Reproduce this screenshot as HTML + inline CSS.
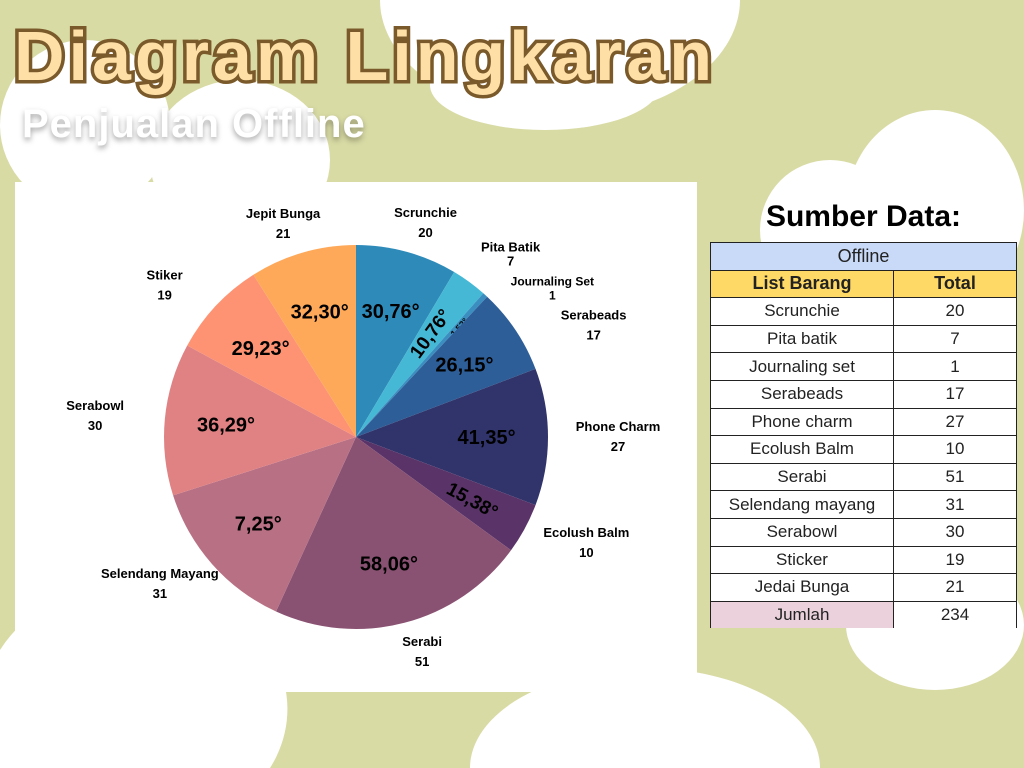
<!DOCTYPE html>
<html style="overflow:hidden;width:1024px;height:768px"><head><meta charset="utf-8"><style>
html,body{margin:0;padding:0}
#wrap{width:1024px;height:768px;overflow:hidden;background:#d9dba5;font-family:"Liberation Sans",sans-serif;position:relative}
#panel{position:absolute;left:15px;top:182px;width:682px;height:510px;background:#fff}
#title{position:absolute;left:14px;top:16px;font-size:70px;font-weight:bold;color:#fedfa6;-webkit-text-stroke:7px #7a5a2a;paint-order:stroke fill;letter-spacing:4px;white-space:nowrap}
#sub{position:absolute;left:22px;top:102px;font-size:40px;font-weight:bold;color:#fff;text-shadow:0 3px 6px rgba(0,0,0,.35);white-space:nowrap;letter-spacing:1px}
#src{position:absolute;left:710px;top:200px;width:307px;text-align:center;font-size:30px;font-weight:bold;color:#000}
table{position:absolute;left:710px;top:242px;width:307px;border-collapse:collapse;font-size:17px;text-align:center;background:#fff}
td{border:1.5px solid #222;height:26.6px;padding:0;color:#222}
</style></head><body>
<div id="wrap">
<svg width="1024" height="768" style="position:absolute;left:0;top:0" fill="#fff">
<path d="M380 0 A180 118 0 0 0 740 0 Z"/><ellipse cx="545" cy="85" rx="115" ry="45"/>
<ellipse cx="85" cy="125" rx="85" ry="85"/><ellipse cx="240" cy="160" rx="90" ry="80"/>
<ellipse cx="935" cy="210" rx="89" ry="100"/><ellipse cx="830" cy="230" rx="70" ry="70"/>
<ellipse cx="935" cy="625" rx="89" ry="65"/>
<path d="M0 768 L0 650 A150 125 0 0 1 270 768 Z"/><path d="M470 768 A175 100 0 0 1 820 768 Z"/>
</svg>
<div id="panel"></div>
<div id="title">Diagram Lingkaran</div>
<div id="sub">Penjualan Offline</div>
<svg id="pie" width="1024" height="768" style="position:absolute;left:0;top:0"></svg>
<div id="src">Sumber Data:</div>
<table>
<tr><td colspan="2" style="background:#c9daf8;font-size:18px">Offline</td></tr>
<tr style="background:#ffd966;font-weight:bold;font-size:18px"><td style="width:182px">List Barang</td><td>Total</td></tr>
<tr><td>Scrunchie</td><td>20</td></tr><tr><td>Pita batik</td><td>7</td></tr><tr><td>Journaling set</td><td>1</td></tr>
<tr><td>Serabeads</td><td>17</td></tr><tr><td>Phone charm</td><td>27</td></tr><tr><td>Ecolush Balm</td><td>10</td></tr>
<tr><td>Serabi</td><td>51</td></tr><tr><td>Selendang mayang</td><td>31</td></tr><tr><td>Serabowl</td><td>30</td></tr>
<tr><td>Sticker</td><td>19</td></tr><tr><td>Jedai Bunga</td><td>21</td></tr>
<tr><td style="background:#ead1dc;border-bottom:none">Jumlah</td><td style="border-bottom:none">234</td></tr>
</table>
</div>
<script>
const categories=["Scrunchie","Pita Batik","Journaling Set","Serabeads","Phone Charm","Ecolush Balm","Serabi","Selendang Mayang","Serabowl","Stiker","Jepit Bunga"];
const values=[20,7,1,17,27,10,51,31,30,19,21];
const degreeLabels=["30,76°","10,76°","1,53°","26,15°","41,35°","15,38°","58,06°","7,25°","36,29°","29,23°","32,30°"];
const colors=["#2e8bb9","#45b8d6","#3a8fc0","#2e5e98","#30346b","#5a3468","#8a5272","#b87084","#e08283","#fd9373","#fea95a"];
const svg=document.getElementById('pie');const NS="http://www.w3.org/2000/svg";
const cx=356,cy=437,r=192;const total=values.reduce((a,b)=>a+b,0);
function pt(a,rr){return [cx+Math.sin(a)*rr,cy-Math.cos(a)*rr];}
let acc=0;let prevY=-1000,prevRight=false;
values.forEach((v,i)=>{
 const a0=acc/total*2*Math.PI;acc+=v;const a1=acc/total*2*Math.PI;
 const p0=pt(a0,r),p1=pt(a1,r);const large=(a1-a0)>Math.PI?1:0;
 const path=document.createElementNS(NS,'path');
 path.setAttribute('d',`M${cx},${cy}L${p0[0]},${p0[1]}A${r},${r} 0 ${large} 1 ${p1[0]},${p1[1]}Z`);
 path.setAttribute('fill',colors[i]);
 
 
 svg.appendChild(path);
 const am=(a0+a1)/2;
 const small=v<3;const ip=pt(am,small?r*0.8:r*0.68);
 const t=document.createElementNS(NS,'text');
 t.setAttribute('x',ip[0]);t.setAttribute('y',ip[1]+7);t.setAttribute('text-anchor','middle');
 t.setAttribute('font-size',small?'9':v<12?'19':'20');t.setAttribute('font-weight','bold');
 if(v<12){const deg=am*180/Math.PI-90;t.setAttribute('transform',`rotate(${deg} ${ip[0]} ${ip[1]+4})`);}
 t.textContent=degreeLabels[i];
 
 
 svg.appendChild(t);
 const op=pt(am,222);let ox=op[0]+Math.sin(am)*40;let oy=op[1]-6;
 const right=Math.sin(am)>0;
 if(right&&prevRight&&oy<prevY+34){oy=prevY+34;ox+=20;}
 prevY=oy;prevRight=right;
 const g=document.createElementNS(NS,'text');
 g.setAttribute('x',ox);g.setAttribute('y',oy);g.setAttribute('text-anchor','middle');
 g.setAttribute('font-size',v<5?'12':'13');g.setAttribute('font-weight','bold');
 
 
 const s1=document.createElementNS(NS,'tspan');s1.setAttribute('x',ox);s1.textContent=categories[i];
 const s2=document.createElementNS(NS,'tspan');s2.setAttribute('x',ox);s2.setAttribute('dy',v<10?'14':'20');s2.textContent=v;
 g.appendChild(s1);g.appendChild(s2);svg.appendChild(g);
});
</script>
</body></html>
